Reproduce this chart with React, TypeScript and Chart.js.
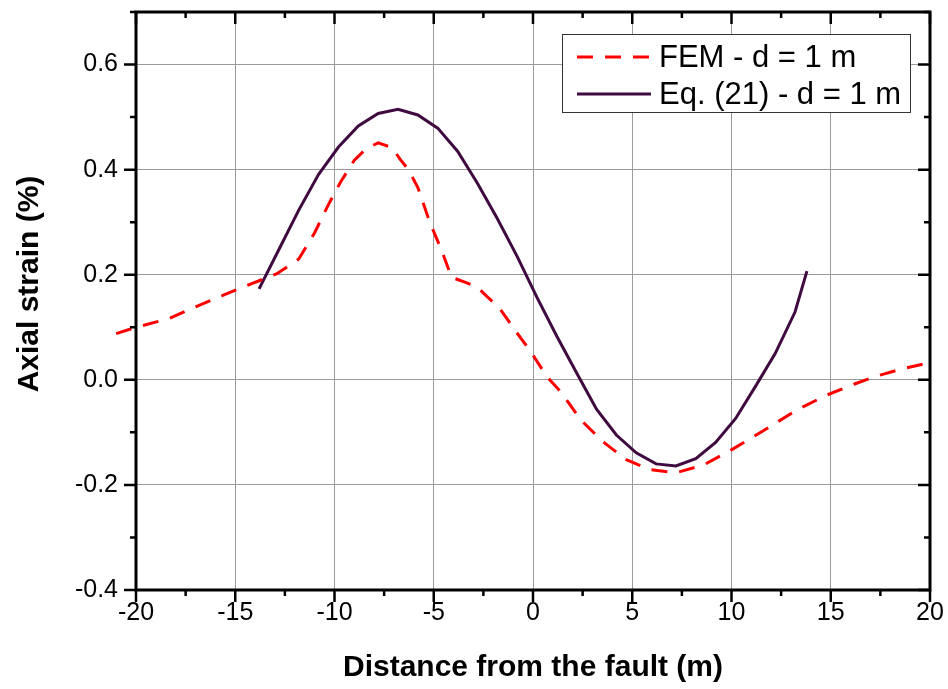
import React, { useEffect, useRef } from 'react';
import { Chart, registerables } from 'chart.js';

Chart.register(...registerables);

// ---- Data ----
const eqLabel = 'Eq. (21) - d = 1 m';
const eqX = [-13.8, -12.8, -11.8, -10.8, -9.8, -8.8, -7.8, -6.8, -5.8, -4.8, -3.8, -2.8, -1.8, -0.8, 0.2, 1.2, 2.2, 3.2, 4.2, 5.2, 6.2, 7.2, 8.2, 9.2, 10.2, 11.2, 12.2, 13.2, 13.8];
const eqY = [0.173, 0.248, 0.323, 0.391, 0.443, 0.483, 0.507, 0.515, 0.504, 0.479, 0.435, 0.374, 0.307, 0.235, 0.157, 0.083, 0.013, -0.056, -0.105, -0.139, -0.160, -0.164, -0.150, -0.119, -0.074, -0.013, 0.050, 0.129, 0.207];

const femLabel = 'FEM - d = 1 m';
const femX = [-21, -20, -18.3, -17, -15.6, -14.5, -13.7, -12.9, -11.8, -11.0, -10.3, -9.7, -9.0, -8.4, -7.8, -7.1, -6.7, -6.3, -5.8, -5.2, -4.6, -4.1, -3.3, -2.8, -2.3, -1.7, -0.9, -0.1, 0.7, 1.4, 2.4, 3.5, 4.7, 5.9, 7.2, 8.6, 10.1, 11.6, 13.3, 14.8, 16.2, 17.3, 18.5, 20];
const femY = [0.088, 0.100, 0.117, 0.139, 0.161, 0.178, 0.190, 0.202, 0.230, 0.280, 0.334, 0.376, 0.418, 0.440, 0.451, 0.442, 0.420, 0.401, 0.366, 0.300, 0.246, 0.195, 0.184, 0.176, 0.158, 0.137, 0.094, 0.053, 0.006, -0.023, -0.076, -0.117, -0.152, -0.171, -0.177, -0.162, -0.131, -0.097, -0.057, -0.029, -0.008, 0.007, 0.020, 0.033];

const xMin = -20, xMax = 20, xMajor = 5, xMinor = 2.5;
const yMin = -0.4, yMax = 0.7, yMajor = 0.2, yMinor = 0.1;
const xTitle = 'Distance from the fault (m)';
const yTitle = 'Axial strain (%)';

const FONT = '"Liberation Sans", Arial, Helvetica, sans-serif';

const zeroPad = (s: any) => {
  s.paddingTop = 0;
  s.paddingBottom = 0;
  s.paddingLeft = 0;
  s.paddingRight = 0;
};

const decorPlugin = {
  id: 'decor',
  afterDatasetsDraw(chart: any) {
    const ctx = chart.ctx;
    const { left, right, top, bottom } = chart.chartArea;
    const xs = chart.scales.x;
    const ys = chart.scales.y;
    ctx.save();
    ctx.strokeStyle = '#000';
    ctx.lineCap = 'butt';
    // ticks
    ctx.lineWidth = 2.5;
    const nx = Math.round((xMax - xMin) / xMinor);
    for (let i = 0; i <= nx; i++) {
      const v = xMin + i * xMinor;
      const px = xs.getPixelForValue(v);
      const major = i % Math.round(xMajor / xMinor) === 0;
      const len = major ? 12 : 6;
      ctx.beginPath();
      ctx.moveTo(px, bottom);
      ctx.lineTo(px, bottom + len);
      ctx.moveTo(px, top);
      ctx.lineTo(px, top + len);
      ctx.stroke();
    }
    const ny = Math.round((yMax - yMin) / yMinor);
    for (let i = 0; i <= ny; i++) {
      const v = yMin + i * yMinor;
      const py = ys.getPixelForValue(v);
      const major = i % Math.round(yMajor / yMinor) === 0;
      const len = major ? 12 : 6;
      ctx.beginPath();
      ctx.moveTo(left - len, py);
      ctx.lineTo(left, py);
      ctx.moveTo(right - len, py);
      ctx.lineTo(right, py);
      ctx.stroke();
    }
    // frame
    ctx.lineWidth = 3;
    ctx.strokeRect(left, top, right - left, bottom - top);

    // legend
    const lx = 562, ly = 34, lw = 348, lh = 78;
    ctx.fillStyle = '#fff';
    ctx.fillRect(lx, ly, lw, lh);
    ctx.lineWidth = 1;
    ctx.strokeStyle = '#333';
    ctx.strokeRect(lx + 0.5, ly + 0.5, lw, lh);
    const ds = chart.data.datasets;
    const rows = [ds[0], ds[1]];
    const rowY = [57, 94];
    ctx.font = `31px ${FONT}`;
    ctx.textBaseline = 'middle';
    ctx.textAlign = 'left';
    rows.forEach((d: any, i: number) => {
      ctx.save();
      ctx.strokeStyle = d.borderColor;
      ctx.lineWidth = d.borderWidth;
      ctx.setLineDash(d.borderDash || []);
      ctx.beginPath();
      ctx.moveTo(577, rowY[i]);
      ctx.lineTo(651, rowY[i]);
      ctx.stroke();
      ctx.restore();
      ctx.fillStyle = '#000';
      ctx.fillText(d.label, 659, rowY[i] + 1);
    });

    // axis titles
    ctx.fillStyle = '#000';
    ctx.font = `bold 30px ${FONT}`;
    ctx.textAlign = 'center';
    ctx.textBaseline = 'middle';
    ctx.fillText(xTitle, (left + right) / 2, 668);
    ctx.save();
    ctx.translate(30, 284);
    ctx.rotate(-Math.PI / 2);
    ctx.fillText(yTitle, 0, 0);
    ctx.restore();
    ctx.restore();
  },
};

export default function App() {
  const ref = useRef<HTMLCanvasElement | null>(null);
  useEffect(() => {
    const canvas = ref.current;
    if (!canvas) return;
    const chart = new Chart(canvas, {
      type: 'scatter',
      data: {
        datasets: [
          {
            label: femLabel,
            data: femX.map((x, i) => ({ x, y: femY[i] })),
            showLine: true,
            borderColor: '#ff0000',
            backgroundColor: '#ff0000',
            borderWidth: 3,
            borderDash: [16, 12],
            pointRadius: 0,
            tension: 0,
            clip: false as any,
          },
          {
            label: eqLabel,
            data: eqX.map((x, i) => ({ x, y: eqY[i] })),
            showLine: true,
            borderColor: '#3f0a40',
            backgroundColor: '#3f0a40',
            borderWidth: 3,
            pointRadius: 0,
            tension: 0,
          },
        ],
      },
      options: {
        animation: false,
        responsive: true,
        maintainAspectRatio: false,
        layout: { padding: { top: 12, right: 18, left: 0, bottom: 0 } },
        plugins: { legend: { display: false }, tooltip: { enabled: false } },
        scales: {
          x: {
            type: 'linear',
            min: xMin,
            max: xMax,
            afterFit: (s: any) => { s.height = 99; zeroPad(s); },
            border: { display: false },
            grid: { color: '#9a9a9a', lineWidth: 1, drawTicks: false },
            ticks: {
              stepSize: xMajor,
              padding: 8,
              color: '#000',
              font: { family: FONT, size: 25 },
              maxRotation: 0,
              callback: (v: any) => String(Math.round(Number(v))),
            },
          },
          y: {
            type: 'linear',
            min: yMin,
            max: yMax,
            afterFit: (s: any) => { s.width = 136; zeroPad(s); },
            border: { display: false },
            grid: { color: '#9a9a9a', lineWidth: 1, drawTicks: false },
            ticks: {
              stepSize: yMajor,
              padding: 18,
              color: '#000',
              font: { family: FONT, size: 25 },
              callback: (v: any) => {
                const n = Number(v);
                if (Math.abs(n - yMax) < 1e-6) return null;
                return (Math.abs(n) < 1e-9 ? 0 : n).toFixed(1);
              },
            },
          },
        },
      },
      plugins: [decorPlugin],
    });
    return () => chart.destroy();
  }, []);
  return (
    <div style={{ position: 'fixed', left: 0, top: 0, width: 948, height: 689, background: '#fff' }}>
      <canvas ref={ref} />
    </div>
  );
}
